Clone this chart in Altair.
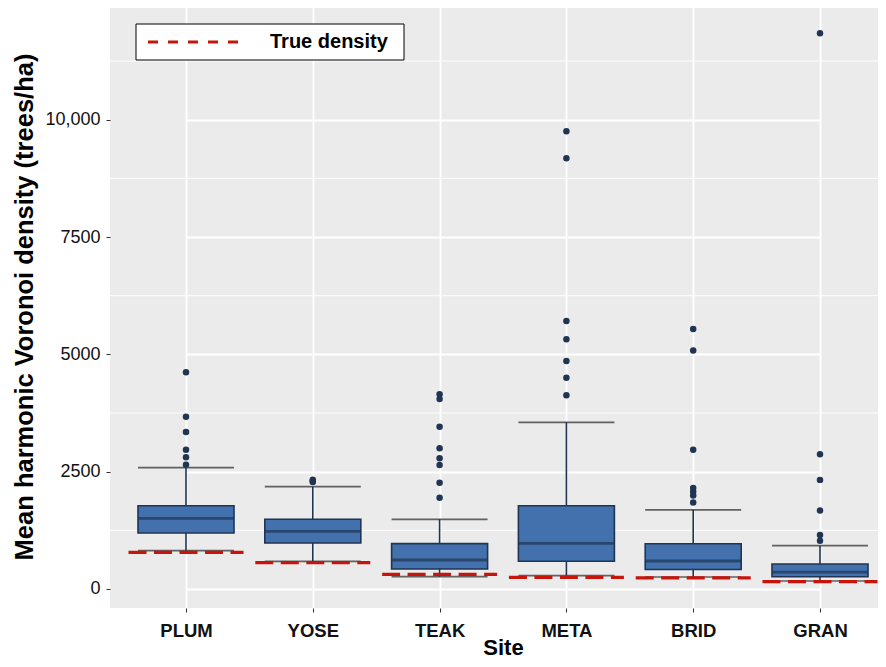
import altair as alt
import pandas as pd

# ---------------- data ----------------
sites = ["PLUM", "YOSE", "TEAK", "META", "BRID", "GRAN"]
whisker_low = [816, 590, 263, 284, 256, 170]
q1 = [1193, 980, 426, 590, 416, 262]
median = [1506, 1229, 618, 973, 597, 360]
q3 = [1775, 1485, 966, 1775, 963, 531]
whisker_high = [2585, 2180, 1485, 3551, 1688, 922]
true_density = [782, 560, 313, 249, 237, 155]

plum_outliers = [4617, 3671, 3345, 2969, 2806, 2650]
yose_outliers = [2330, 2300, 2280]
teak_outliers = [4148, 4048, 3459, 2998, 2785, 2642, 2265, 1946]
meta_outliers = [9752, 9177, 5711, 5321, 4858, 4503, 4127]
brid_outliers = [5538, 5080, 2969, 2154, 2070, 1990, 1843]
gran_outliers = [11841, 2870, 2325, 1672, 1151, 1027]

major_ticks = [0, 2500, 5000, 7500, 10000]
minor_grid = [1250, 3750, 6250, 8750, 11250]
legend_label = ["True density"]

# ---------------- tables ----------------
summary = pd.DataFrame({
    "site": sites, "lo": whisker_low, "q1": q1, "med": median,
    "q3": q3, "hi": whisker_high, "truth": true_density,
})
out_lists = [plum_outliers, yose_outliers, teak_outliers,
             meta_outliers, brid_outliers, gran_outliers]
outliers = pd.DataFrame(
    [(s, v) for s, vals in zip(sites, out_lists) for v in vals],
    columns=["site", "value"],
)
minor_df = pd.DataFrame({"v": minor_grid})
legend_df = pd.DataFrame({"label": legend_label})

NAVY = "#1F3552"
FILL = "#4271AE"
RED = "#C8140A"
BOX_W = 96

xscale = alt.Scale(type="point", domain=sites, range=[76, 710], padding=0)
yscale = alt.Scale(domain=[-405, 12444], nice=False, zero=False)

x_axis = alt.Axis(
    title="Site", grid=True, gridColor="white", gridWidth=1.8,
    labelFontSize=18.5, labelFontWeight="bold", labelColor="#111111",
    labelPadding=9, labelAngle=0, tickSize=4, tickColor="#333333",
    domain=False, titleFontSize=22, titleFontWeight="bold",
    titleColor="black", titleY=46, titleBaseline="alphabetic",
)
y_axis = alt.Axis(
    title="Mean harmonic Voronoi density (trees/ha)", values=major_ticks,
    labelExpr="datum.value >= 10000 ? format(datum.value, ',') : format(datum.value, 'd')",
    grid=True, gridColor="white", gridWidth=1.8,
    labelFontSize=18, labelColor="#111111", labelPadding=6,
    tickSize=4, tickColor="#333333", domain=False,
    titleFontSize=25.5, titleFontWeight="bold", titleColor="black",
    titleX=-78, titleBaseline="alphabetic",
)

def X(field="site"):
    return alt.X(f"{field}:N", scale=xscale, axis=x_axis)

def Y(field):
    return alt.Y(f"{field}:Q", scale=yscale, axis=y_axis)

minor = alt.Chart(minor_df).mark_rule(color="white", strokeWidth=0.9).encode(
    y=Y("v")
)

base = alt.Chart(summary)

whisk = base.mark_rule(color=NAVY, strokeWidth=1.6).encode(
    x=X(), y=Y("lo"), y2="hi"
)
box = base.mark_bar(size=BOX_W, color=FILL, stroke=NAVY, strokeWidth=1.6).encode(
    x=X(), y=Y("q1"), y2="q3"
)
med = base.mark_tick(size=BOX_W, thickness=2.8, color=NAVY).encode(
    x=X(), y=Y("med")
)
cap_lo = base.mark_tick(size=BOX_W, thickness=1.7, color="#262626").encode(
    x=X(), y=Y("lo")
)
cap_hi = base.mark_tick(size=BOX_W, thickness=1.7, color="#262626").encode(
    x=X(), y=Y("hi")
)
truth = base.mark_rule(
    color=RED, strokeWidth=3.2, strokeDash=[18, 7.5], xOffset=-57.5, x2Offset=57.5
).encode(x=X(), x2=alt.X2("site"), y=Y("truth"))

pts = alt.Chart(outliers).mark_circle(size=42, color=NAVY, opacity=1).encode(
    x=X(), y=Y("value")
)

leg = alt.Chart(legend_df)
leg_box = leg.mark_rect(fill="white", stroke="black", strokeWidth=1).encode(
    x=alt.value(26), x2=alt.value(294), y=alt.value(19), y2=alt.value(55)
)
leg_line = leg.mark_rule(color=RED, strokeWidth=3, strokeDash=[10, 10]).encode(
    x=alt.value(38), x2=alt.value(135), y=alt.value(37)
)
leg_text = leg.mark_text(
    align="left", baseline="middle", fontSize=20, fontWeight="bold", color="black"
).encode(x=alt.value(160), y=alt.value(37), text="label:N")

chart = alt.layer(
    minor, whisk, box, med, cap_lo, cap_hi, truth, pts, leg_box, leg_line, leg_text
).properties(
    width=768, height=603,
    autosize=alt.AutoSizeParams(type="none"),
    padding={"left": 102, "top": -3, "right": 0, "bottom": 51},
).configure(font="Liberation Sans").configure_view(fill="#EBEBEB", strokeWidth=0)

chart.save("out.html", embed_options={"renderer": "svg", "actions": False})
